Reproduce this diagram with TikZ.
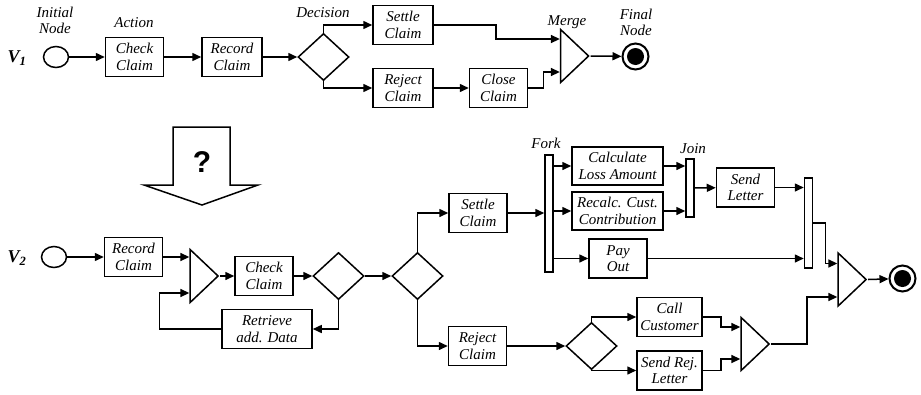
\documentclass[tikz,border=0pt]{standalone}
\usepackage{fontspec}
\setmainfont{Liberation Serif}
\setsansfont{Liberation Sans}
\usetikzlibrary{shapes.geometric,arrows.meta}

\begin{document}
\begin{tikzpicture}[
    x=1pt, y=-1pt,
    act/.style={draw, line width=1.5pt, minimum width=58pt, minimum height=39pt, inner sep=1pt, align=center, font=\fontsize{15}{16.5}\selectfont\itshape},
    dec/.style={draw, diamond, line width=1.5pt, minimum width=51pt, minimum height=47pt, inner sep=0pt},
    mrg/.style={draw, isosceles triangle, isosceles triangle stretches, line width=1.5pt, minimum width=53pt, minimum height=28pt, inner sep=0pt},
    bar/.style={draw, fill=white, line width=1.5pt, minimum width=8pt, inner sep=0pt},
    start/.style={draw, ellipse, line width=1.5pt, minimum width=25pt, minimum height=21pt, inner sep=0pt},
    stop/.style={draw, circle, line width=2pt, minimum size=26pt, inner sep=0pt, path picture={\fill (path picture bounding box.center) circle (8.5pt);}},
    lbl/.style={align=center, font=\fontsize{15}{16}\selectfont\itshape},
    ver/.style={font=\fontsize{18}{18}\selectfont\bfseries\itshape},
    arr/.style={-{Triangle[length=9pt,width=8pt]}, line width=1.5pt}
  ]
    \useasboundingbox (0,0) rectangle (921,394);

    % V1
    \node[ver] (v1) at (17,58) {V\textsubscript{1}};
    \node[start] (init1) at (56,57) {};
    \node[act] (check1) at (134.5,57) {Check\\Claim};
    \node[act, minimum width=60pt] (record1) at (232,57) {Record\\Claim};
    \node[dec] (dec1) at (323.5,57) {};
    \node[act, minimum width=60pt] (settle1) at (403,25) {Settle\\Claim};
    \node[act, minimum width=60pt] (reject1) at (403,88) {Reject\\Claim};
    \node[act] (close1) at (498.5,88) {Close\\Claim};
    \node[mrg] (merge1) at (572,56) {};
    \node[stop] (final1) at (635.5,56.5) {};

    \node[lbl] (initlbl) at (55,20) {Initial\\Node};
    \node[lbl] (actlbl) at (134,23) {Action};
    \node[lbl] (declbl) at (323,13) {Decision};
    \node[lbl] (mrglbl) at (567,22) {Merge};
    \node[lbl] (finlbl) at (636,22) {Final\\Node};

    \draw[arr] (init1) -- (check1);
    \draw[arr] (check1) -- (record1);
    \draw[arr] (record1) -- (dec1);
    \draw[arr] (dec1.north) |- (settle1);
    \draw[arr] (dec1.south) |- (reject1);
    \draw[arr] (reject1) -- (close1);
    \draw[arr] (settle1.east) -- ++(62,0) |- ([yshift=17pt]merge1.west);
    \draw[arr] (close1.east) -- ++(15,0) |- ([yshift=-16pt]merge1.west);
    \draw[arr] (merge1.apex) -- (final1);

    % arrow with question mark
    \draw[line width=1.5pt] (173,127) -- (230,127) -- (230,185) -- (258,185) -- (202,205) -- (144,185) -- (173,185) -- cycle;
    \node[font=\fontsize{30}{30}\selectfont\sffamily\bfseries] (qmark) at (202,162) {?};

    % V2
    \node[ver] (v2) at (17,258) {V\textsubscript{2}};
    \node[start] (init2) at (54,257) {};
    \node[act] (record2) at (133.5,257) {Record\\Claim};
    \node[mrg] (merge2) at (201.5,276) {};
    \node[act] (check2) at (264,276) {Check\\Claim};
    \node[dec] (dec2a) at (338.5,276) {};
    \node[dec] (dec2b) at (417.5,276) {};
    \node[act, minimum width=90pt] (retrieve) at (267,329) {Retrieve\\add. Data};
    \node[act] (settle2) at (478,213) {Settle\\Claim};
    \node[act] (reject2) at (477.5,346) {Reject\\Claim};
    \node[bar, minimum height=117pt] (fork) at (549,213.5) {};
    \node[act, minimum width=91pt, minimum height=38pt] (calc) at (617.5,166) {Calculate\\Loss Amount};
    \node[act, minimum width=91pt, minimum height=38pt] (recalc) at (617.5,211) {Recalc. Cust.\\Contribution};
    \node[act] (payout) at (618,258.5) {Pay\\Out};
    \node[bar, minimum height=58pt] (join) at (690,188) {};
    \node[act] (sendletter) at (745.5,187.5) {Send\\Letter};
    \node[bar, minimum height=90pt] (join2) at (808.5,223) {};
    \node[dec] (dec3) at (591.5,346) {};
    \node[act, minimum width=65pt] (callcust) at (669.5,317) {Call\\Customer};
    \node[act, minimum width=65pt] (sendrej) at (669.5,370.5) {Send Rej.\\Letter};
    \node[mrg] (merge3) at (752.5,344) {};
    \node[mrg] (merge4) at (849.5,279.5) {};
    \node[stop] (final2) at (902.5,278.5) {};

    \node[lbl] (forklbl) at (546,143) {Fork};
    \node[lbl] (joinlbl) at (693,149) {Join};

    \draw[arr] (init2) -- (record2);
    \draw[arr] (record2.east) -- (record2.east -| merge2.west);
    \draw[arr] (merge2.apex) -- (check2);
    \draw[arr] (check2) -- (dec2a);
    \draw[arr] (dec2a) -- (dec2b);
    \draw[arr] (dec2a.south) |- (retrieve);
    \draw[arr] (retrieve.west) -- ++(-62,0) |- ([yshift=-17pt]merge2.west);
    \draw[arr] (dec2b.north) |- (settle2);
    \draw[arr] (dec2b.south) |- (reject2);
    \draw[arr] (settle2.east) -- (settle2.east -| fork.west);
    \draw[arr] (fork.east |- calc.west) -- (calc);
    \draw[arr] (fork.east |- recalc.west) -- (recalc);
    \draw[arr] (fork.east |- payout.west) -- (payout);
    \draw[arr] (calc.east) -- (calc.east -| join.west);
    \draw[arr] (recalc.east) -- (recalc.east -| join.west);
    \draw[arr] (join) -- (sendletter);
    \draw[arr] (sendletter.east) -- (sendletter.east -| join2.west);
    \draw[arr] (payout.east) -- (payout.east -| join2.west);
    \draw[arr] (join2.east) -- ++(12,0) |- ([yshift=16pt]merge4.west);
    \draw[arr] (merge4.apex) -- (final2);
    \draw[arr] (reject2) -- (dec3);
    \draw[arr] (dec3.north) |- (callcust);
    \draw[arr] (dec3.south) |- (sendrej);
    \draw[arr] (callcust.east) -- ++(18,0) |- ([yshift=17pt]merge3.west);
    \draw[arr] (sendrej.east) -- ++(18,0) |- ([yshift=-15pt]merge3.west);
    \draw[arr] (merge3.apex) -- ++(36,0) |- ([yshift=-17.5pt]merge4.west);
  \end{tikzpicture}
\end{document}
